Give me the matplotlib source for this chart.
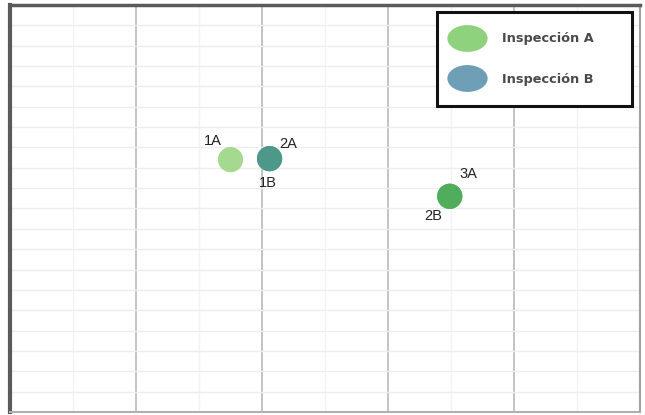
import matplotlib
matplotlib.use("Agg")
import matplotlib.pyplot as plt
from matplotlib.path import Path
from matplotlib.lines import Line2D
import numpy as np

# data
labels_a = ["1A", "2A", "3A"]
x_a = [1.75, 2.06, 3.49]
y_a = [2.48, 2.49, 2.12]
labels_b = ["1B", "2B"]
x_b = [2.06, 3.49]
y_b = [2.49, 2.12]
series_names = ["Inspección A", "Inspección B"]

# styles
col_a = ["#9dd584", "#4e9a8a", "#4fae5c"]
col_b = ["#4e8f8a", "#4fa85a"]
leg_cols = ["#8fd27d", "#6e9fb7"]
off_a = [(-18, 19), (19, 15), (19, 22)]
off_b = [(-2, -24), (-17, -20)]

W, H = 645, 415
fig = plt.figure(figsize=(W/100, H/100), dpi=100)
ax = fig.add_axes([10/W, 3/H, 630/W, 407/H])
ax.set_xlim(0, 5)
ax.set_ylim(0, 4)

# grid
ax.set_xticks([1, 2, 3, 4])
ax.set_xticks(np.arange(0.5, 5, 1.0), minor=True)
ax.set_yticks([])
ax.set_yticks(np.arange(0.2, 4, 0.2), minor=True)
ax.grid(True, which="major", axis="x", color="#c4c4c4", lw=1.4)
ax.grid(True, which="minor", axis="x", color="#f2f2f2", lw=1.0)
ax.grid(True, which="minor", axis="y", color="#ededed", lw=1.0)
ax.tick_params(which="both", length=0, labelbottom=False, labelleft=False)
ax.set_axisbelow(True)

for side, c, w in [("left", "#5a5a5a", 3), ("top", "#5a5a5a", 2.5),
                   ("right", "#a0a0a0", 1.5), ("bottom", "#b0b0b0", 1.5)]:
    ax.spines[side].set_color(c)
    ax.spines[side].set_linewidth(w)

ax.scatter(x_b, y_b, s=330, c=col_b, zorder=3, linewidths=0)
ax.scatter(x_a, y_a, s=330, c=col_a, zorder=4, linewidths=0, alpha=0.9)

for xs, ys, labs, offs in [(x_a, y_a, labels_a, off_a), (x_b, y_b, labels_b, off_b)]:
    for xi, yi, lab, off in zip(xs, ys, labs, offs):
        ax.annotate(lab, (xi, yi), xytext=off, textcoords="offset pixels",
                    ha="center", va="center", fontsize=10.5, color="#222222",
                    family="Liberation Sans", zorder=5)

# ellipse marker for legend
circ = Path.unit_circle()
ell = Path(circ.vertices * np.array([1.5, 1.0]), circ.codes)
handles = [Line2D([], [], ls="none", marker=ell, markersize=29,
                  markerfacecolor=c, markeredgewidth=0) for c in leg_cols]
leg = ax.legend(handles, series_names, loc="upper left", mode="expand",
                bbox_to_anchor=(437/W, 1 - 105/H, 195/W, 93/H),
                bbox_transform=fig.transFigure,
                frameon=True, fancybox=False, borderpad=1.57, labelspacing=2.13,
                handlelength=1.51, handletextpad=1.96, borderaxespad=0,
                prop={"family": "DejaVu Sans", "size": 9.3, "weight": "bold"})
leg.get_frame().set_edgecolor("#111111")
leg.get_frame().set_linewidth(2.2)
leg.get_frame().set_alpha(1)
for t in leg.get_texts():
    t.set_color("#4a4a4a")

fig.savefig("out.png", dpi=100)
